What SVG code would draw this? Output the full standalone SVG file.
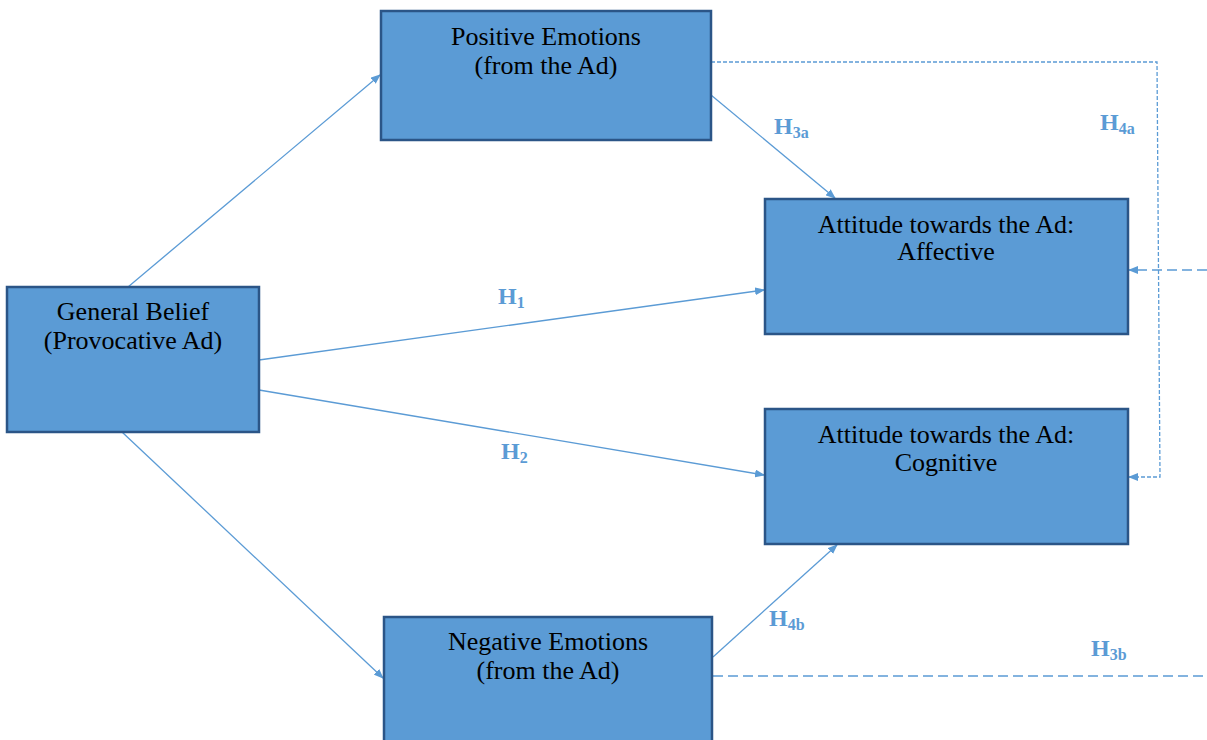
<svg xmlns="http://www.w3.org/2000/svg" width="1207" height="740" viewBox="0 0 1207 740">
<style>
.box{fill:#5b9bd5;stroke:#2b5587;stroke-width:2.5}
.t{font-family:"Liberation Serif","Times New Roman",serif;font-size:26px;fill:#000;text-anchor:middle}
.ln{stroke:#5b9bd5;stroke-width:1.3;fill:none}
.d1{stroke:#5b9bd5;stroke-width:1.3;fill:none;stroke-dasharray:4 2}
.d2{stroke:#5b9bd5;stroke-width:1.5;fill:none;stroke-dasharray:10 5}
.h{font-family:"Liberation Serif","Times New Roman",serif;font-weight:bold;font-size:24px;fill:#5b9bd5}
.h tspan{font-size:16px}
</style>
<defs>
<marker id="ar" markerWidth="10" markerHeight="8" refX="9" refY="4" orient="auto" markerUnits="userSpaceOnUse">
<path d="M0,0 L10,4 L0,8 Z" fill="#5b9bd5"/>
</marker>
</defs>
<g id="connectors">
<line class="ln" x1="128" y1="287" x2="380" y2="75" marker-end="url(#ar)"/>
<line class="ln" x1="259" y1="360" x2="764" y2="290" marker-end="url(#ar)"/>
<line class="ln" x1="259" y1="390" x2="764" y2="475" marker-end="url(#ar)"/>
<line class="ln" x1="122" y1="432" x2="383" y2="678" marker-end="url(#ar)"/>
<line class="ln" x1="711" y1="95" x2="835" y2="198" marker-end="url(#ar)"/>
<line class="ln" x1="713" y1="657" x2="837" y2="545" marker-end="url(#ar)"/>
<polyline class="d1" points="711,62 1157,62 1160,477 1129,477" marker-end="url(#ar)"/>
<line class="d2" x1="713" y1="676" x2="1207" y2="676"/>
<line class="d2" x1="1207" y1="270" x2="1129" y2="270" marker-end="url(#ar)"/>
</g>
<g id="labels">
<text class="h" x="498" y="304">H<tspan dy="4">1</tspan></text>
<text class="h" x="501" y="459">H<tspan dy="4">2</tspan></text>
<text class="h" x="774" y="134">H<tspan dy="4">3a</tspan></text>
<text class="h" x="1100" y="130">H<tspan dy="4">4a</tspan></text>
<text class="h" x="769" y="626">H<tspan dy="4">4b</tspan></text>
<text class="h" x="1091" y="656">H<tspan dy="4">3b</tspan></text>
</g>
<g id="positive">
<rect class="box" x="381" y="11" width="330" height="129"/>
<text class="t" x="546" y="45">Positive Emotions</text>
<text class="t" x="546" y="74">(from the Ad)</text>
</g>
<g id="general">
<rect class="box" x="7" y="287" width="252" height="145"/>
<text class="t" x="133" y="320">General Belief</text>
<text class="t" x="133" y="349">(Provocative Ad)</text>
</g>
<g id="affective">
<rect class="box" x="765" y="199" width="363" height="135"/>
<text class="t" x="946" y="233">Attitude towards the Ad:</text>
<text class="t" x="946" y="260">Affective</text>
</g>
<g id="cognitive">
<rect class="box" x="765" y="409" width="363" height="135"/>
<text class="t" x="946" y="443">Attitude towards the Ad:</text>
<text class="t" x="946" y="471">Cognitive</text>
</g>
<g id="negative">
<rect class="box" x="384" y="617" width="328" height="135"/>
<text class="t" x="548" y="650">Negative Emotions</text>
<text class="t" x="548" y="679">(from the Ad)</text>
</g>
</svg>
